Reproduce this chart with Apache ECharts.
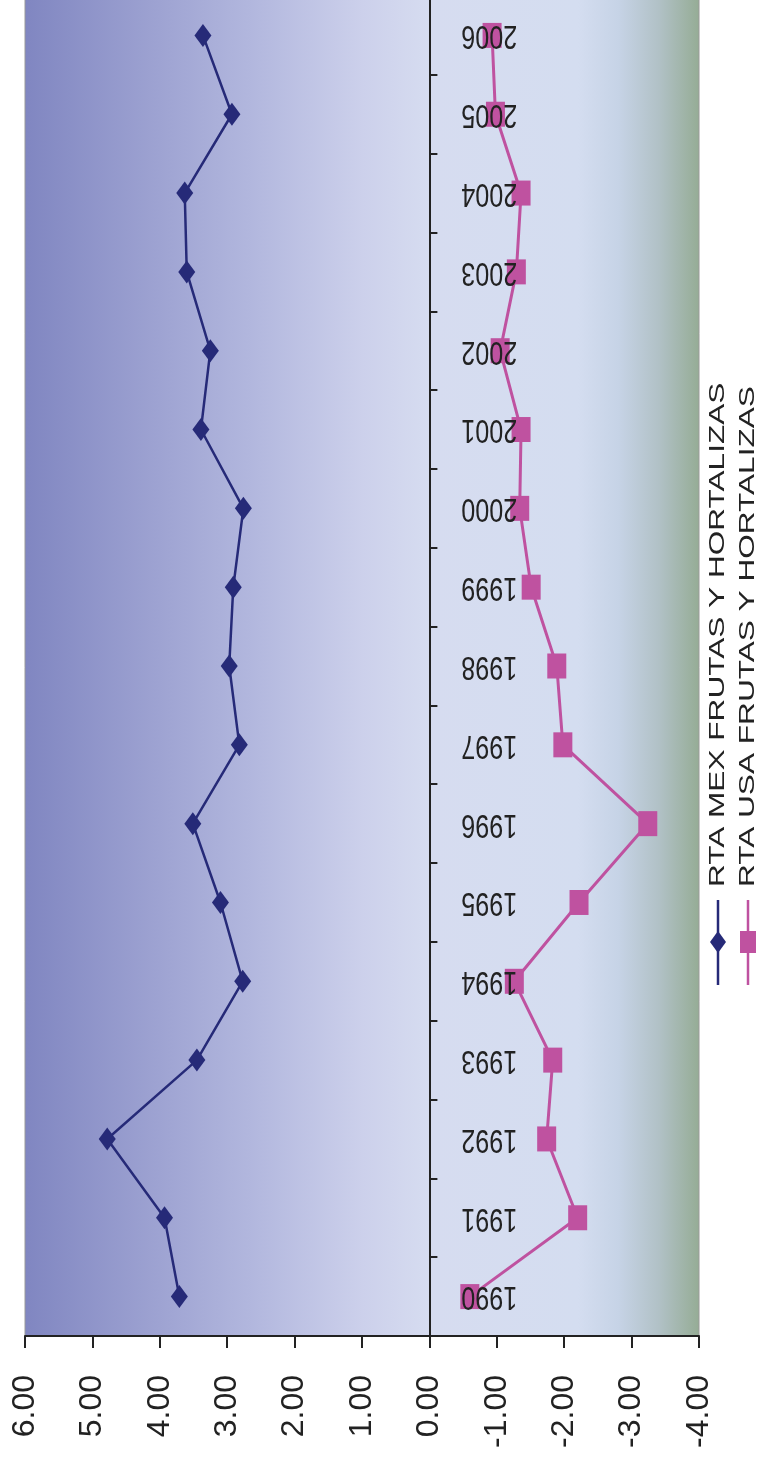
<!DOCTYPE html>
<html>
<head>
<meta charset="utf-8">
<style>
  html, body { margin: 0; padding: 0; background: #ffffff; }
  #chart { width: 760px; height: 1463px; }
</style>
<script src="https://cdn.jsdelivr.net/npm/echarts@6/dist/echarts.min.js"></script>
</head>
<body>
<div id="chart"></div>
<script>
// Years on the category axis (bottom to top)
const years = ['1990','1991','1992','1993','1994','1995','1996','1997','1998',
               '1999','2000','2001','2002','2003','2004','2005','2006'];

// RTA series values
const rtaMex = [3.71, 3.93, 4.78, 3.45, 2.77, 3.10, 3.51, 2.82, 2.97,
                2.91, 2.76, 3.39, 3.25, 3.60, 3.63, 2.93, 3.36];
const rtaUsa = [-0.60, -2.20, -1.74, -1.83, -1.26, -2.22, -3.24, -1.98, -1.89,
                -1.51, -1.34, -1.36, -1.05, -1.29, -1.36, -0.98, -0.93];

// Series names
const nameMex = 'RTA MEX FRUTAS Y HORTALIZAS';
const nameUsa = 'RTA USA FRUTAS Y HORTALIZAS';

// Value axis range
const valueMin = -4;
const valueMax = 6;
const valueStep = 1;

const colorMex = '#262a78';
const colorUsa = '#bf52a0';
const textColor = '#222222';

const gridLeft = 25;
const gridRight = 61;

const chart = echarts.init(document.getElementById('chart'), null, { renderer: 'canvas' });

// Legend drawn sideways, reading bottom to top
function legendItem(x, color, symbol, label) {
  const cy = 942;
  const marker = symbol === 'diamond'
    ? { type: 'polygon', shape: { points: [[x, cy - 11], [x + 8, cy], [x, cy + 11], [x - 8, cy]] },
        style: { fill: color }, z: 10 }
    : { type: 'rect', shape: { x: x - 8, y: cy - 11, width: 16, height: 22 },
        style: { fill: color }, z: 10 };
  return [
    { type: 'line', shape: { x1: x, y1: 900, x2: x, y2: 985 },
      style: { stroke: color, lineWidth: 2.5 }, z: 10 },
    marker,
    { type: 'text', x: x, y: 887, rotation: Math.PI / 2, scaleY: 0.72, z: 10,
      style: { text: label, fill: textColor, font: '31.6px "Liberation Sans", Arial, sans-serif',
               textAlign: 'left', textVerticalAlign: 'middle' } }
  ];
}

// Year labels beside the zero line, upside down and slightly condensed
function renderYearLabel(params, api) {
  const p = api.coord([0, api.value(1)]);
  return {
    type: 'text',
    x: p[0] + 32,
    y: p[1],
    rotation: Math.PI,
    scaleX: 0.76,
    style: {
      text: years[api.value(1)],
      fill: textColor,
      font: '33px "Liberation Sans", Arial, sans-serif',
      textAlign: 'right',
      textVerticalAlign: 'middle'
    }
  };
}

const option = {
  animation: false,
  backgroundColor: '#ffffff',
  grid: {
    left: gridLeft,
    right: gridRight,
    top: -4,
    bottom: 127,
    containLabel: false,
    outerBoundsMode: 'none',
    show: true,
    borderColor: '#9a9a9a',
    borderWidth: 1,
    backgroundColor: new echarts.graphic.LinearGradient(0, 0, 1, 0, [
      { offset: 0.00, color: '#8086c1' },
      { offset: 0.20, color: '#9ea3d2' },
      { offset: 0.35, color: '#b4b9df' },
      { offset: 0.50, color: '#ccd0eb' },
      { offset: 0.60, color: '#d6dcf0' },
      { offset: 0.82, color: '#d4ddf0' },
      { offset: 0.88, color: '#c6d3e6' },
      { offset: 0.94, color: '#b1c1c6' },
      { offset: 1.00, color: '#95ac95' }
    ])
  },
  xAxis: {
    type: 'value',
    inverse: true,
    position: 'bottom',
    min: valueMin,
    max: valueMax,
    interval: valueStep,
    axisLine: { show: true, onZero: false, lineStyle: { color: textColor, width: 2 } },
    axisTick: { show: true, length: 12, lineStyle: { color: textColor, width: 2 } },
    splitLine: { show: false },
    axisLabel: {
      rotate: 90,
      margin: 39,
      color: textColor,
      fontSize: 32,
      fontFamily: '"Liberation Sans", Arial, sans-serif',
      formatter: v => v.toFixed(2)
    }
  },
  yAxis: {
    type: 'category',
    data: years,
    position: 'right',
    // shift the axis from the right edge to the zero value
    offset: -((760 - gridRight - gridLeft) * (0 - valueMin) / (valueMax - valueMin)),
    z: 3,
    axisLine: { show: true, onZero: false, lineStyle: { color: textColor, width: 2 } },
    axisTick: { show: true, length: 8, alignWithLabel: false, lineStyle: { color: textColor, width: 2 } },
    axisLabel: { show: false },
    splitLine: { show: false }
  },
  series: [
    {
      name: nameMex,
      type: 'line',
      data: rtaMex,
      symbol: 'diamond',
      symbolSize: [17, 23],
      lineStyle: { color: colorMex, width: 2.5 },
      itemStyle: { color: colorMex },
      z: 2
    },
    {
      name: nameUsa,
      type: 'line',
      data: rtaUsa,
      symbol: 'rect',
      symbolSize: [19, 25],
      lineStyle: { color: colorUsa, width: 3 },
      itemStyle: { color: colorUsa },
      z: 2
    },
    {
      type: 'custom',
      renderItem: renderYearLabel,
      data: years.map((y, i) => [0, i]),
      silent: true,
      z: 4
    }
  ],
  graphic: [
    ...legendItem(718, colorMex, 'diamond', nameMex),
    ...legendItem(748, colorUsa, 'rect', nameUsa)
  ]
};

chart.setOption(option);
</script>
</body>
</html>
